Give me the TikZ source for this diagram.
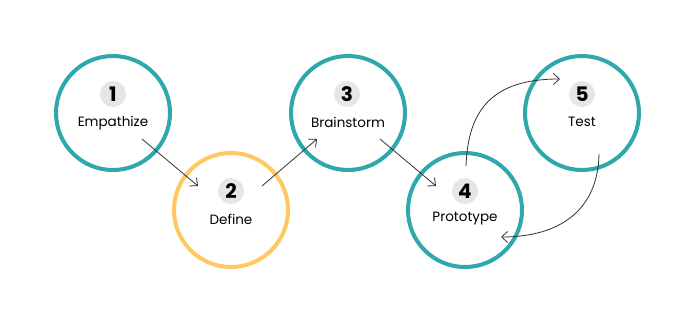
\documentclass[tikz,border=0pt]{standalone}
\usepackage{fontspec}
\setmainfont{Poppins}
\usetikzlibrary{arrows.meta}
\definecolor{teal1}{HTML}{2EA8AD}
\definecolor{yell}{HTML}{FEC862}
\definecolor{badge}{HTML}{E6E6E6}
\definecolor{arr}{HTML}{333333}
\tikzset{
  stage/.style={circle, draw=teal1, line width=4pt, minimum size=114pt, inner sep=0pt},
  stagey/.style={stage, draw=yell},
  badgenode/.style={circle, fill=badge, minimum size=26pt, inner sep=0pt, font=\fontsize{20}{22}\selectfont\bfseries},
  lbl/.style={font=\fontsize{13.5}{15}\selectfont},
  flow/.style={draw=arr, line width=0.8pt, -{Straight Barb[length=6pt,width=11pt]}},
}
\begin{document}
\begin{tikzpicture}[x=1pt,y=-1pt]
\useasboundingbox (0,0) rectangle (695,324);
\fill[white] (0,0) rectangle (695,324);
\node[stage]  (c1) at (113,113) {};
\node[stagey] (c2) at (231,210) {};
\node[stage]  (c3) at (348,113) {};
\node[stage]  (c4) at (465,210) {};
\node[stage]  (c5) at (582,113) {};
\node[badgenode] (b1) at (113,94) {1};
\node[badgenode] (b2) at (231,191) {2};
\node[badgenode] (b3) at (347,94) {3};
\node[badgenode] (b4) at (465,191) {4};
\node[badgenode] (b5) at (582,94) {5};
\node[lbl] (l1) at (113,123) {Empathize};
\node[lbl] (l2) at (231,219) {Define};
\node[lbl] (l3) at (348,122) {Brainstorm};
\node[lbl] (l4) at (465,219) {Prototype};
\node[lbl] (l5) at (582,122) {Test};
\coordinate (a1s) at (142,139);
\coordinate (a1e) at (198,186);
\coordinate (a2s) at (262,186);
\coordinate (a2e) at (317,139);
\coordinate (a3s) at (380,139);
\coordinate (a3e) at (436,186);
\coordinate (a4s) at (466,166);
\coordinate (a4e) at (560,79);
\coordinate (a5s) at (599,154);
\coordinate (a5e) at (501,237);
\draw[flow] (a1s) -- (a1e);
\draw[flow] (a2s) -- (a2e);
\draw[flow] (a3s) -- (a3e);
\draw[flow] (a4s) .. controls (468,110) and (492,79) .. (a4e);
\draw[flow] (a5s) .. controls (598,210) and (560,237) .. (a5e);
\end{tikzpicture}
\end{document}
